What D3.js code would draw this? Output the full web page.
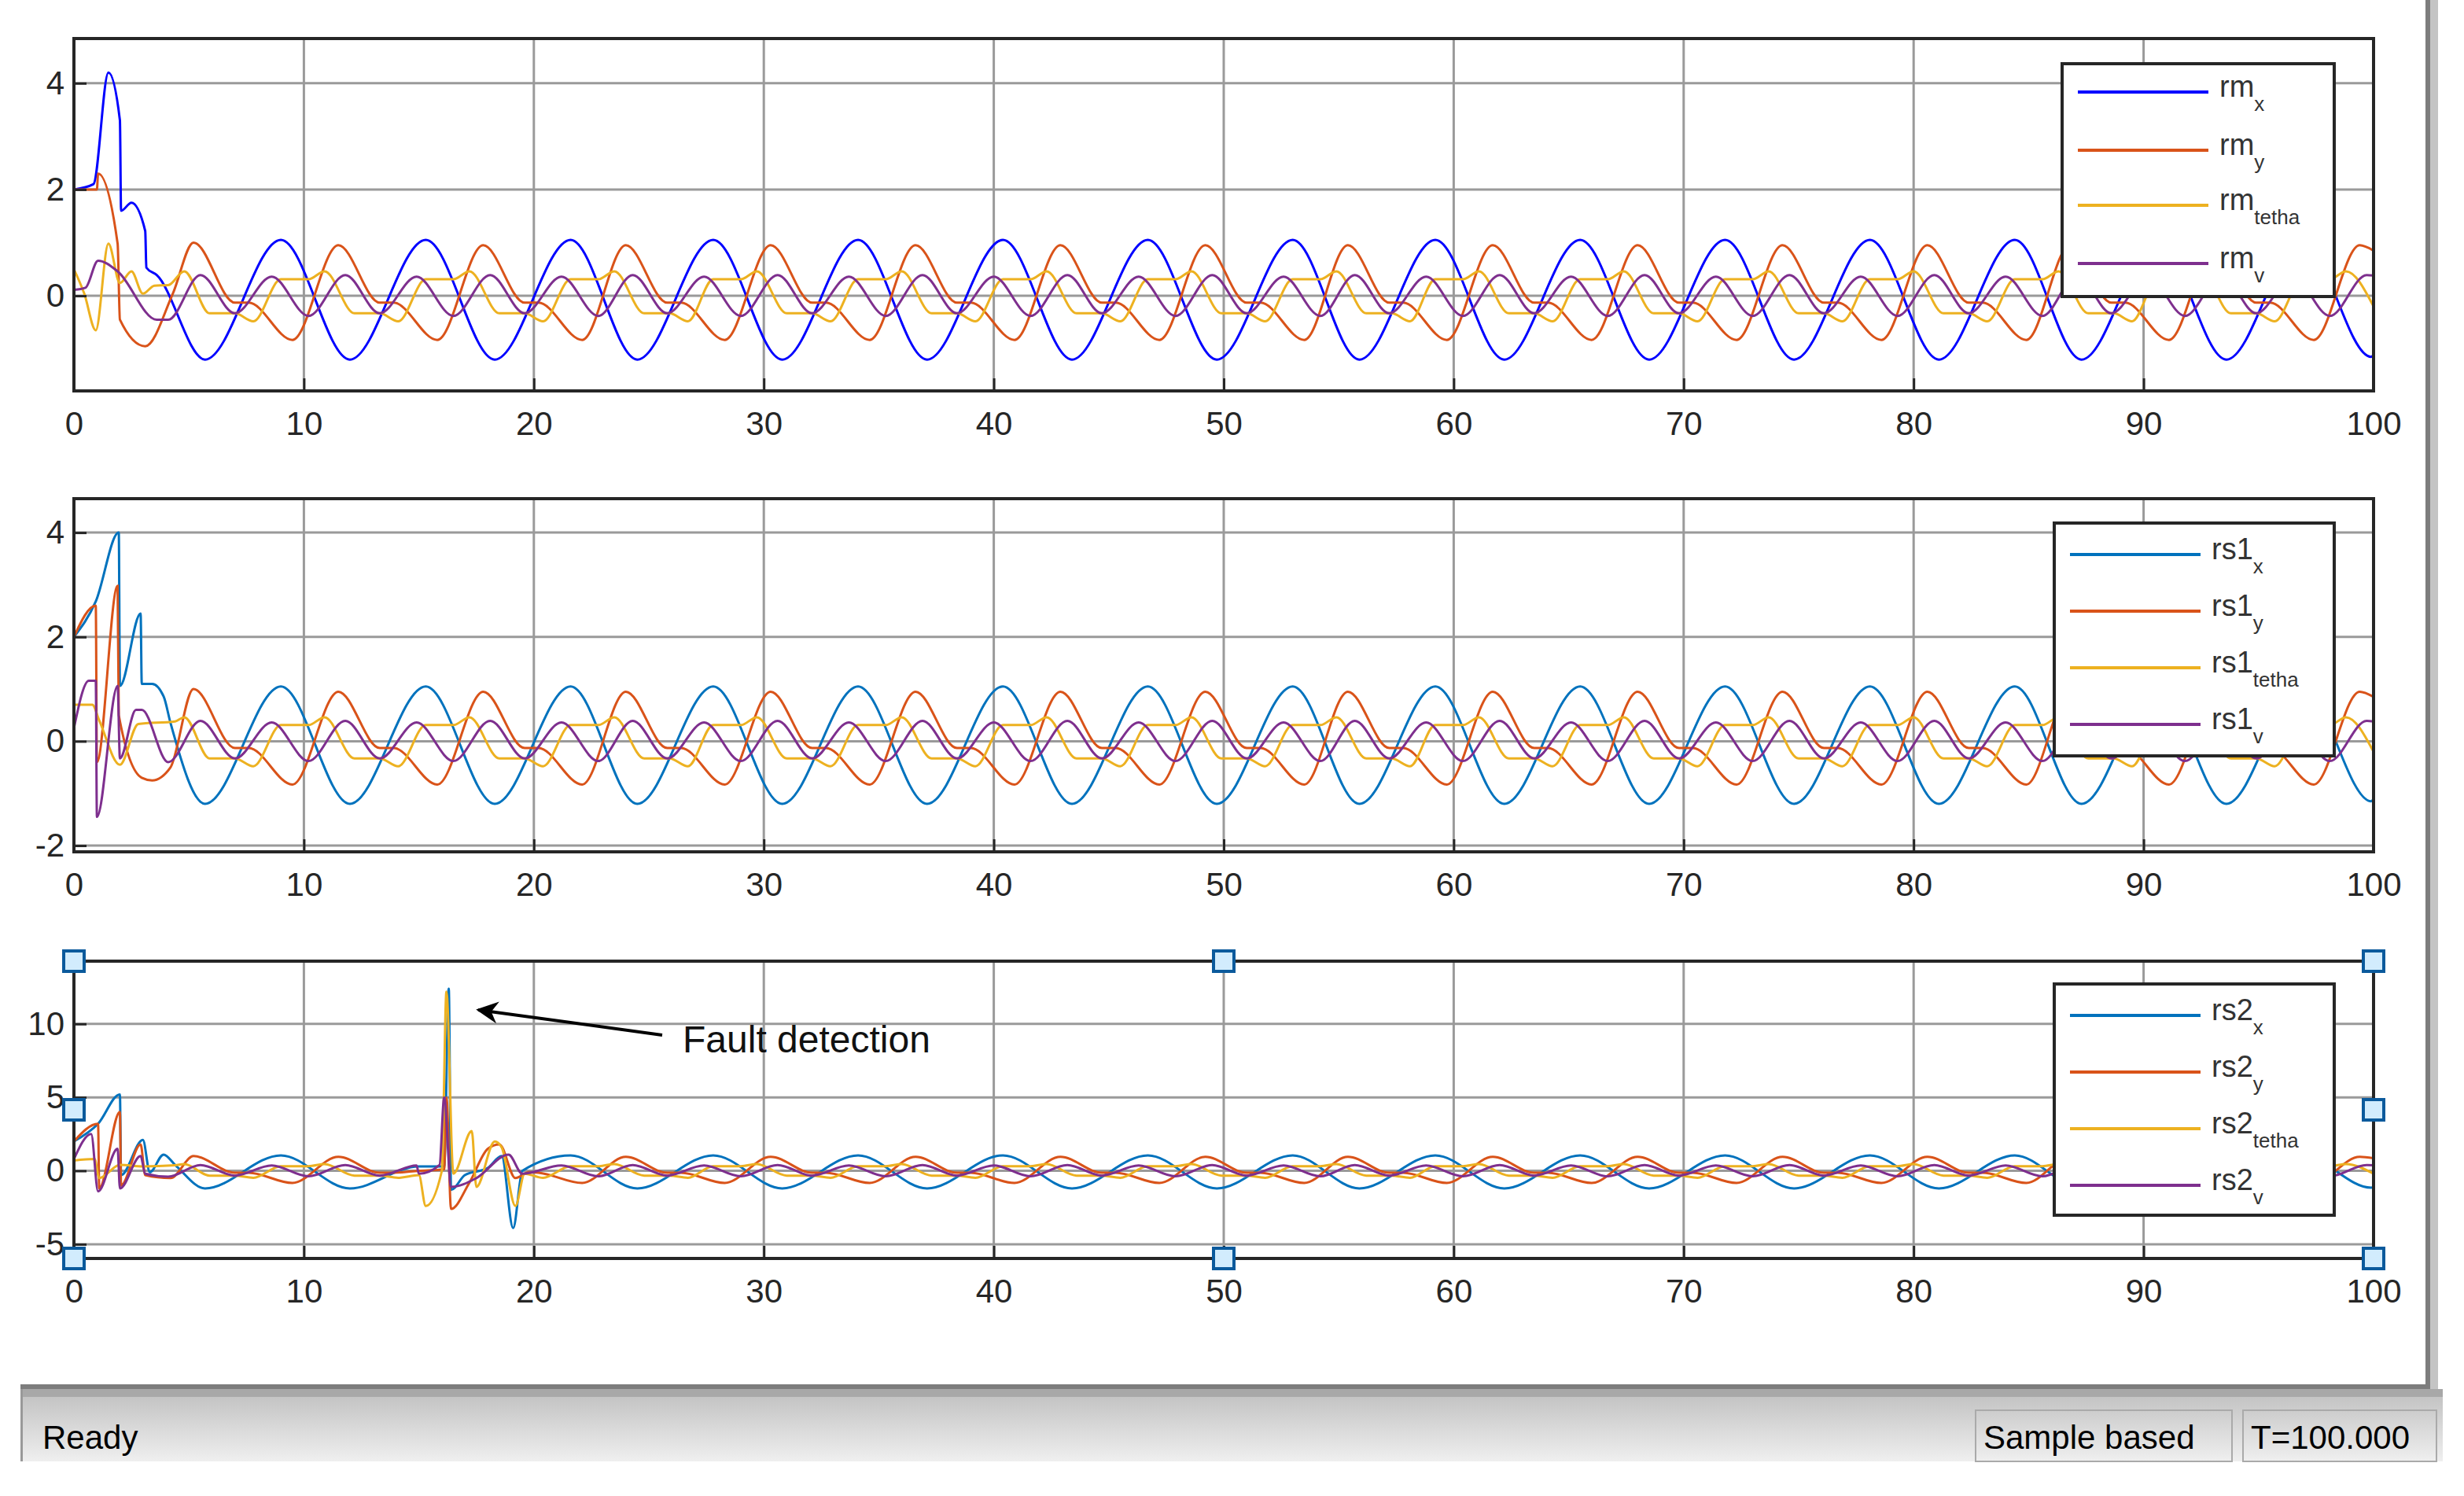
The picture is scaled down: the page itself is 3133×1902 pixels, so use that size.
<!DOCTYPE html>
<html>
<head>
<meta charset="utf-8">
<script src="https://cdn.jsdelivr.net/npm/d3@7"></script>
<style>
body { margin: 0; background: #fff; }
text { font-family: "Liberation Sans", Arial, sans-serif; }
</style>
</head>
<body>
<svg id="chart" width="3133" height="1902"></svg>
<script>
// ---- data: [time, value] ----
// steady oscillation shared by the three scopes
var steadyX = [[5.7,-1.2],[9.0,1.05],[12.0,-1.2],[15.3,1.05],[18.3,-1.2],[21.6,1.05],[24.5,-1.2],[27.8,1.05],[30.8,-1.2],[34.1,1.05],[37.1,-1.2],[40.4,1.05],[43.4,-1.2],[46.7,1.05],[49.7,-1.2],[53.0,1.05],[55.9,-1.2],[59.2,1.05],[62.2,-1.2],[65.5,1.05],[68.5,-1.2],[71.8,1.05],[74.8,-1.2],[78.1,1.05],[81.1,-1.2],[84.4,1.05],[87.3,-1.2],[90.6,1.05],[93.6,-1.2],[96.9,1.05],[99.9,-1.15],[100,-1.1]];
var steadyY = [[5.2,1.0],[7.0,-0.13],[7.6,-0.13],[9.5,-0.83],[11.5,0.95],[13.3,-0.13],[13.9,-0.13],[15.8,-0.83],[17.8,0.95],[19.6,-0.13],[20.2,-0.13],[22.1,-0.83],[24.0,0.95],[25.8,-0.13],[26.4,-0.13],[28.3,-0.83],[30.3,0.95],[32.1,-0.13],[32.7,-0.13],[34.6,-0.83],[36.6,0.95],[38.4,-0.13],[39.0,-0.13],[40.9,-0.83],[42.9,0.95],[44.7,-0.13],[45.3,-0.13],[47.2,-0.83],[49.2,0.95],[51.0,-0.13],[51.6,-0.13],[53.5,-0.83],[55.4,0.95],[57.2,-0.13],[57.8,-0.13],[59.7,-0.83],[61.7,0.95],[63.5,-0.13],[64.1,-0.13],[66.0,-0.83],[68.0,0.95],[69.8,-0.13],[70.4,-0.13],[72.3,-0.83],[74.3,0.95],[76.1,-0.13],[76.7,-0.13],[78.6,-0.83],[80.6,0.95],[82.4,-0.13],[83.0,-0.13],[84.9,-0.83],[86.8,0.95],[88.6,-0.13],[89.2,-0.13],[91.1,-0.83],[93.1,0.95],[94.9,-0.13],[95.5,-0.13],[97.4,-0.83],[99.4,0.95],[100,0.85]];
var steadyTetha = [[5.9,-0.33],[7.0,-0.33],[7.8,-0.48],[9.0,0.31],[10.2,0.31],[10.9,0.46],[12.2,-0.33],[13.3,-0.33],[14.1,-0.48],[15.3,0.31],[16.5,0.31],[17.2,0.46],[18.5,-0.33],[19.6,-0.33],[20.4,-0.48],[21.6,0.31],[22.8,0.31],[23.5,0.46],[24.8,-0.33],[25.9,-0.33],[26.7,-0.48],[27.8,0.31],[29.0,0.31],[29.7,0.46],[31.0,-0.33],[32.1,-0.33],[32.9,-0.48],[34.1,0.31],[35.3,0.31],[36.0,0.46],[37.3,-0.33],[38.4,-0.33],[39.2,-0.48],[40.4,0.31],[41.6,0.31],[42.3,0.46],[43.6,-0.33],[44.7,-0.33],[45.5,-0.48],[46.7,0.31],[47.9,0.31],[48.6,0.46],[49.9,-0.33],[51.0,-0.33],[51.8,-0.48],[53.0,0.31],[54.2,0.31],[54.9,0.46],[56.2,-0.33],[57.3,-0.33],[58.1,-0.48],[59.2,0.31],[60.4,0.31],[61.1,0.46],[62.4,-0.33],[63.5,-0.33],[64.3,-0.48],[65.5,0.31],[66.7,0.31],[67.4,0.46],[68.7,-0.33],[69.8,-0.33],[70.6,-0.48],[71.8,0.31],[73.0,0.31],[73.7,0.46],[75.0,-0.33],[76.1,-0.33],[76.9,-0.48],[78.1,0.31],[79.3,0.31],[80.0,0.46],[81.3,-0.33],[82.4,-0.33],[83.2,-0.48],[84.4,0.31],[85.6,0.31],[86.3,0.46],[87.6,-0.33],[88.7,-0.33],[89.5,-0.48],[90.6,0.31],[91.8,0.31],[92.5,0.46],[93.8,-0.33],[94.9,-0.33],[95.7,-0.48],[96.9,0.31],[98.1,0.31],[98.8,0.46],[100,-0.2]];
var steadyV = [[5.5,0.39],[7.0,-0.33],[8.6,0.36],[10.2,-0.38],[11.8,0.39],[13.3,-0.33],[14.9,0.36],[16.5,-0.38],[18.1,0.39],[19.6,-0.33],[21.2,0.36],[22.8,-0.38],[24.3,0.39],[25.8,-0.33],[27.4,0.36],[29.0,-0.38],[30.6,0.39],[32.1,-0.33],[33.7,0.36],[35.3,-0.38],[36.9,0.39],[38.4,-0.33],[40.0,0.36],[41.6,-0.38],[43.2,0.39],[44.7,-0.33],[46.3,0.36],[47.9,-0.38],[49.5,0.39],[51.0,-0.33],[52.6,0.36],[54.2,-0.38],[55.7,0.39],[57.2,-0.33],[58.8,0.36],[60.4,-0.38],[62.0,0.39],[63.5,-0.33],[65.1,0.36],[66.7,-0.38],[68.3,0.39],[69.8,-0.33],[71.4,0.36],[73.0,-0.38],[74.6,0.39],[76.1,-0.33],[77.7,0.36],[79.3,-0.38],[80.9,0.39],[82.4,-0.33],[84.0,0.36],[85.6,-0.38],[87.1,0.39],[88.6,-0.33],[90.2,0.36],[91.8,-0.38],[93.4,0.39],[94.9,-0.33],[96.5,0.36],[98.1,-0.38],[99.7,0.39],[100,0.38]];

// start-up transients
var rmStartX = [[0,2.0],[0.85,2.1],[1.5,4.2],[2.0,3.3],[2.05,1.6],[2.5,1.75],[3.1,1.22],[3.15,0.53],[3.6,0.39]];
var rmStartY = [[0,2.0],[1.0,2.0],[1.05,2.3],[1.9,0.98],[2.0,-0.45],[3.1,-0.95],[4.3,0.04]];
var rmStartTetha = [[0,0.5],[0.45,0.04],[0.95,-0.65],[1.5,0.98],[2.0,0.24],[2.5,0.46],[3.0,0.04],[3.5,0.19],[4.1,0.2],[4.8,0.46]];
var rmStartV = [[0,0.11],[0.5,0.15],[1.05,0.66],[1.9,0.46],[3.6,-0.45],[4.1,-0.45]];

var rs1StartX = [[0,2.0],[0.95,2.68],[1.95,4.0],[2.0,1.06],[2.9,2.45],[2.95,1.1],[3.4,1.1],[3.9,0.86],[4.2,0.35]];
var rs1StartY = [[0,2.0],[0.95,2.6],[1.0,-0.4],[1.9,2.98],[1.95,0.5],[2.95,-0.7],[3.4,-0.75],[4.2,-0.5]];
var rs1StartTetha = [[0,0.7],[0.8,0.7],[1.1,0.4],[2.0,-0.45],[2.8,0.33],[4.4,0.38],[4.8,0.46]];
var rs1StartV = [[0,0.25],[0.65,1.16],[0.95,1.16],[1.0,-1.45],[1.9,1.06],[2.0,-0.33],[2.7,0.6],[2.95,0.6],[4.1,-0.4]];

var rs2StartX = [[0,2.0],[1.05,3.2],[2.0,5.2],[2.05,-0.3],[3.0,2.1],[3.3,-0.1],[3.9,1.1],[4.4,0.4]];
var rs2StartY = [[0,2.0],[1.05,3.2],[1.1,-1.2],[2.0,4.0],[2.05,-1.0],[2.9,1.8],[3.1,-0.3],[4.2,-0.5]];
var rs2StartTetha = [[0,0.7],[0.9,0.8],[1.1,-0.5],[2.0,0.4],[3.0,0.3],[4.4,0.38],[4.8,0.46]];
var rs2StartV = [[0,0.8],[0.75,2.5],[1.05,-1.4],[1.9,1.5],[2.0,-1.2],[2.9,1.0],[3.1,-0.2],[4.1,-0.4]];

// fault burst in the third scope
var faultX = [[15.0,0.3],[16.1,0.3],[16.3,12.4],[16.4,-1.3],[17.0,-0.3],[18.0,0.2],[18.6,1.0],[19.1,-3.9],[19.5,0]];
var faultY = [[15.0,0.0],[16.1,0.1],[16.2,5.0],[16.4,-2.6],[17.2,-0.8],[18.0,1.5],[18.5,1.8],[19.2,-0.5],[19.8,-0.1]];
var faultTetha = [[15.0,-0.3],[15.3,-2.4],[16.0,0.0],[16.2,12.2],[16.5,-0.2],[17.3,2.7],[17.5,-1.1],[18.3,2.0],[18.6,1.6],[19.2,-2.4],[19.6,-0.2]];
var faultV = [[15.0,-0.2],[15.9,0.4],[16.1,5.0],[16.4,-1.1],[17.5,-0.5],[18.9,1.1],[19.5,-0.2]];
var faultWindow = [14.95, 19.85];

var xTicks = [0,10,20,30,40,50,60,70,80,90,100];
var names1 = ["rm","rm","rm","rm"];
var names2 = ["rs1","rs1","rs1","rs1"];
var names3 = ["rs2","rs2","rs2","rs2"];
var subs = ["x","y","tetha","v"];
var colors1 = ["#0000ff","#d95319","#edb120","#7e2f8e"];
var colors = ["#0072bd","#d95319","#edb120","#7e2f8e"];

var svg = d3.select("#chart");

function outsideFault(p) { return p[0] < faultWindow[0] || p[0] > faultWindow[1]; }
function byTime(a, b) { return a[0] - b[0]; }

var panels = [
    {top: 49, bottom: 497, domain: [-1.79, 4.84], ticks: [0,2,4], names: names1, colors: colors1,
     series: [rmStartX.concat(steadyX), rmStartY.concat(steadyY), rmStartTetha.concat(steadyTetha), rmStartV.concat(steadyV)],
     legend: {x0: 2622, y0: 81, x1: 2968, y1: 377, lx0: 2642, lx1: 2808, tx: 2822, rows: [117,191,261,335]}},
    {top: 634, bottom: 1083, domain: [-2.12, 4.65], ticks: [-2,0,2,4], names: names2, colors: colors,
     series: [rs1StartX.concat(steadyX), rs1StartY.concat(steadyY), rs1StartTetha.concat(steadyTetha), rs1StartV.concat(steadyV)],
     legend: {x0: 2612, y0: 665, x1: 2968, y1: 961, lx0: 2632, lx1: 2798, tx: 2812, rows: [705,777,849,921]}},
    {top: 1222, bottom: 1600, domain: [-5.97, 14.27], ticks: [-5,0,5,10], names: names3, colors: colors,
     series: [rs2StartX.concat(steadyX.filter(outsideFault), faultX).sort(byTime),
              rs2StartY.concat(steadyY.filter(outsideFault), faultY).sort(byTime),
              rs2StartTetha.concat(steadyTetha.filter(outsideFault), faultTetha).sort(byTime),
              rs2StartV.concat(steadyV.filter(outsideFault), faultV).sort(byTime)],
     legend: {x0: 2612, y0: 1251, x1: 2968, y1: 1545, lx0: 2632, lx1: 2798, tx: 2812, rows: [1291,1363,1435,1507]}}
];

var left = 94, right = 3018;
var x = d3.scaleLinear().domain([0, 100]).range([left, right]);

panels.forEach(function(p, i) {
    var y = d3.scaleLinear().domain(p.domain).range([p.bottom, p.top]);
    p.y = y;
    var g = svg.append("g");

    svg.append("clipPath").attr("id", "clip" + i)
        .append("rect").attr("x", left).attr("y", p.top).attr("width", right - left).attr("height", p.bottom - p.top);

    // grid
    g.selectAll(".vg").data(xTicks).enter().append("line")
        .attr("x1", function(d){ return x(d); }).attr("x2", function(d){ return x(d); })
        .attr("y1", p.top).attr("y2", p.bottom)
        .attr("stroke", "#9a9a9a").attr("stroke-width", 3);
    g.selectAll(".hg").data(p.ticks).enter().append("line")
        .attr("x1", left).attr("x2", right)
        .attr("y1", function(d){ return y(d); }).attr("y2", function(d){ return y(d); })
        .attr("stroke", "#9a9a9a").attr("stroke-width", 3);

    // lines
    var line = d3.line().x(function(d){ return x(d[0]); }).y(function(d){ return y(d[1]); })
        .curve(d3.curveMonotoneX);
    p.series.forEach(function(s, k) {
        g.append("path").datum(s).attr("d", line)
            .attr("clip-path", "url(#clip" + i + ")")
            .attr("fill", "none").attr("stroke", p.colors[k]).attr("stroke-width", 3);
    });

    // box + inward ticks
    var xa = d3.axisBottom(x).tickValues(xTicks).tickSize(-16).tickPadding(26).tickFormat(d3.format("d"));
    var ya = d3.axisLeft(y).tickValues(p.ticks).tickSize(-16).tickPadding(12).tickFormat(d3.format("d"));
    var ax = g.append("g").attr("transform", "translate(0," + p.bottom + ")").call(xa);
    var ay = g.append("g").attr("transform", "translate(" + left + ",0)").call(ya);
    [ax, ay].forEach(function(a) {
        a.select(".domain").remove();
        a.selectAll("line").attr("stroke", "#262626").attr("stroke-width", 3);
        a.selectAll("text").attr("font-size", 42).attr("fill", "#262626")
            .attr("font-family", "Liberation Sans, Arial, sans-serif");
    });
    ay.selectAll("text").text(function(d){ return d < 0 ? "-" + (-d) : d; });
    g.append("rect").attr("x", left).attr("y", p.top).attr("width", right - left).attr("height", p.bottom - p.top)
        .attr("fill", "none").attr("stroke", "#262626").attr("stroke-width", 4);

    // legend
    var L = p.legend;
    g.append("rect").attr("x", L.x0).attr("y", L.y0).attr("width", L.x1 - L.x0).attr("height", L.y1 - L.y0)
        .attr("fill", "#fff").attr("stroke", "#262626").attr("stroke-width", 4);
    L.rows.forEach(function(ry, k) {
        g.append("line").attr("x1", L.lx0).attr("x2", L.lx1).attr("y1", ry).attr("y2", ry)
            .attr("stroke", p.colors[k]).attr("stroke-width", 4);
        var t = g.append("text").attr("x", L.tx).attr("y", ry + 6).attr("font-size", 38).attr("fill", "#333");
        t.append("tspan").text(p.names[k]);
        t.append("tspan").attr("dy", 18).attr("font-size", 26).text(subs[k]);
    });
});

// annotation in the third scope
svg.append("defs").append("marker").attr("id", "arr").attr("viewBox", "0 0 10 10")
    .attr("refX", 9).attr("refY", 5).attr("markerWidth", 7).attr("markerHeight", 7)
    .attr("orient", "auto")
    .append("path").attr("d", "M0,0 L10,5 L0,10 L3,5 z").attr("fill", "#000");
svg.append("line").attr("x1", 842).attr("y1", 1316).attr("x2", 608).attr("y2", 1284)
    .attr("stroke", "#000").attr("stroke-width", 4).attr("marker-end", "url(#arr)");
svg.append("text").attr("x", 868).attr("y", 1338).attr("font-size", 48).attr("fill", "#111").text("Fault detection");

// selection handles around the third axes
var p3 = panels[2];
var mid = (p3.top + p3.bottom) / 2;
var hx = [left, x(50), right], hy = [p3.top, mid, p3.bottom];
hx.forEach(function(a) {
    hy.forEach(function(b) {
        if (a === x(50) && b === mid) return;
        svg.append("rect").attr("x", a - 13).attr("y", b - 13).attr("width", 26).attr("height", 26)
            .attr("fill", "#d2ecfd").attr("stroke", "#0b5a9c").attr("stroke-width", 4);
    });
});

// window frame
svg.append("rect").attr("x", 3084).attr("y", 0).attr("width", 6).attr("height", 1768).attr("fill", "#7d7d7d");
svg.append("rect").attr("x", 3090).attr("y", 0).attr("width", 10).attr("height", 1768).attr("fill", "#c4c4c4");
svg.append("rect").attr("x", 26).attr("y", 1760).attr("width", 3064).attr("height", 6).attr("fill", "#7d7d7d");

// status bar
var grad = svg.append("defs").append("linearGradient").attr("id", "sb").attr("x1", 0).attr("x2", 0).attr("y1", 0).attr("y2", 1);
grad.append("stop").attr("offset", "0%").attr("stop-color", "#c4c4c4");
grad.append("stop").attr("offset", "100%").attr("stop-color", "#efefef");
svg.append("rect").attr("x", 26).attr("y", 1766).attr("width", 3080).attr("height", 10).attr("fill", "#a8a8a8");
svg.append("rect").attr("x", 26).attr("y", 1776).attr("width", 3080).attr("height", 82).attr("fill", "url(#sb)");
svg.append("rect").attr("x", 26).attr("y", 1766).attr("width", 3).attr("height", 92).attr("fill", "#999");
svg.append("rect").attr("x", 2512).attr("y", 1793).attr("width", 326).attr("height", 65).attr("fill", "none").attr("stroke", "#aaa").attr("stroke-width", 2);
svg.append("rect").attr("x", 2852).attr("y", 1793).attr("width", 246).attr("height", 65).attr("fill", "none").attr("stroke", "#aaa").attr("stroke-width", 2);
svg.append("text").attr("x", 54).attr("y", 1842).attr("font-size", 42).attr("fill", "#000").text("Ready");
svg.append("text").attr("x", 2522).attr("y", 1842).attr("font-size", 42).attr("fill", "#000").text("Sample based");
svg.append("text").attr("x", 2862).attr("y", 1842).attr("font-size", 42).attr("fill", "#000").text("T=100.000");
</script>
</body>
</html>
